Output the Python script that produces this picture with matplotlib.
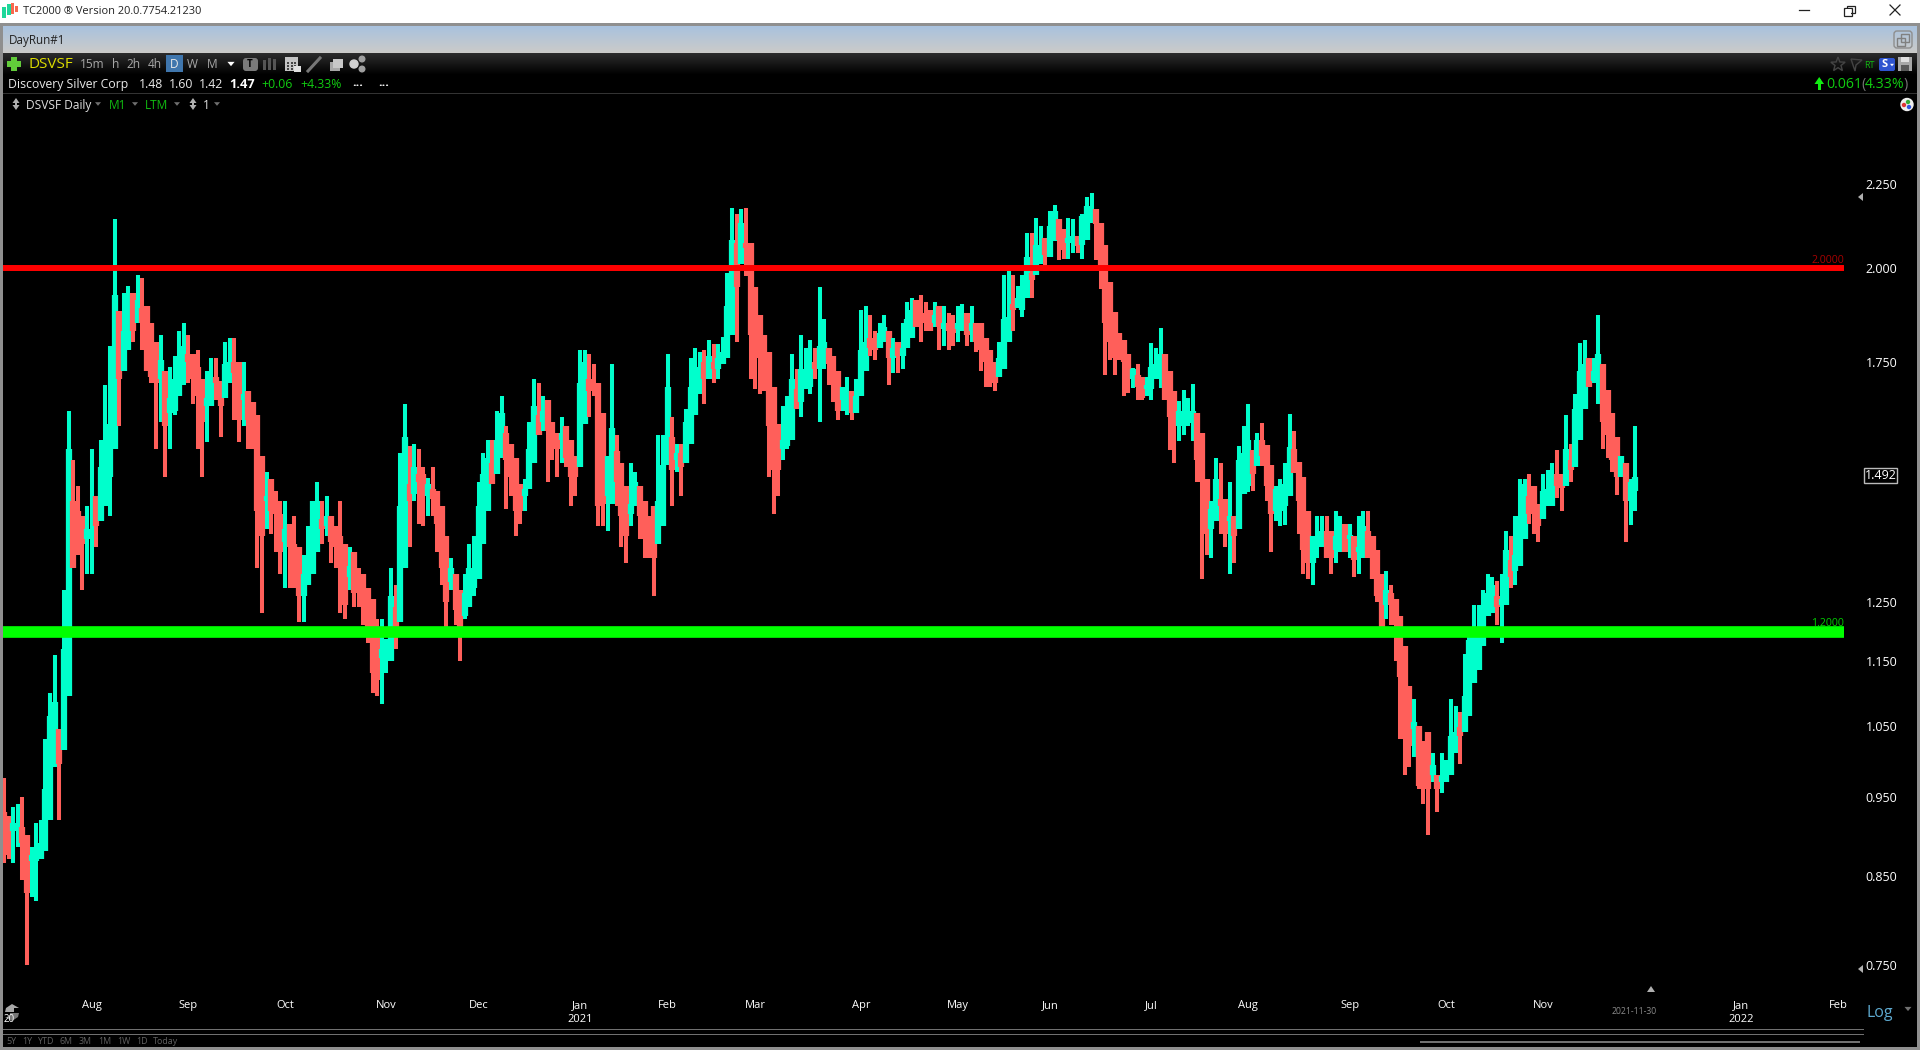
import numpy as np
import matplotlib
matplotlib.use('Agg')
import matplotlib.pyplot as plt
from matplotlib.patches import Rectangle, FancyBboxPatch, Circle, Polygon
from matplotlib.ticker import NullLocator, FixedLocator, FixedFormatter

plt.rcParams['font.family'] = ['Open Sans', 'DejaVu Sans']

# daily bars, left to right
highs = [.975,.925,.937,.94,.95,.90,.885,.915,.92,1.03,
 1.10,1.16,1.045,1.27,1.635,1.525,1.47,1.41,1.43,1.55,
 1.45,1.57,1.695,1.79,2.14,1.88,1.93,1.95,1.93,1.98,
 1.97,1.895,1.85,1.80,1.82,1.73,1.74,1.765,1.83,1.85,
 1.82,1.77,1.78,1.71,1.73,1.76,1.76,1.705,1.80,1.81,
 1.81,1.75,1.75,1.68,1.655,1.625,1.535,1.50,1.485,1.46,
 1.44,1.44,1.395,1.41,1.35,1.335,1.39,1.44,1.48,1.44,
 1.45,1.41,1.39,1.44,1.355,1.35,1.34,1.31,1.30,1.275,
 1.255,1.22,1.22,1.186,1.31,1.28,1.54,1.65,1.555,1.56,
 1.55,1.51,1.487,1.51,1.46,1.43,1.37,1.33,1.30,1.27,
 1.30,1.355,1.37,1.48,1.54,1.57,1.57,1.635,1.67,1.60,
 1.56,1.53,1.475,1.485,1.61,1.71,1.70,1.67,1.66,1.61,
 1.585,1.62,1.60,1.57,1.535,1.78,1.78,1.77,1.745,1.70,
 1.63,1.535,1.745,1.58,1.52,1.47,1.52,1.50,1.47,1.44,
 1.41,1.43,1.58,1.58,1.77,1.62,1.56,1.56,1.64,1.76,
 1.785,1.775,1.78,1.805,1.795,1.795,1.815,1.985,2.175,2.155,
 2.17,2.175,2.07,1.945,1.87,1.82,1.775,1.69,1.605,1.645,
 1.67,1.77,1.735,1.82,1.785,1.805,1.785,1.945,1.86,1.785,
 1.765,1.73,1.69,1.715,1.68,1.71,1.885,1.895,1.87,1.83,
 1.85,1.87,1.83,1.81,1.80,1.85,1.905,1.915,1.91,1.925,
 1.905,1.885,1.905,1.895,1.895,1.875,1.87,1.895,1.90,1.875,
 1.895,1.85,1.85,1.81,1.78,1.75,1.80,1.98,1.99,1.98,
 1.95,1.98,2.10,2.10,2.145,2.12,2.085,2.165,2.185,2.14,
 2.11,2.145,2.14,2.09,2.155,2.21,2.222,2.17,2.13,2.065,
 1.96,1.878,1.823,1.807,1.77,1.736,1.745,1.715,1.715,1.798,
 1.786,1.837,1.77,1.728,1.68,1.658,1.684,1.665,1.697,1.631,
 1.585,1.485,1.44,1.529,1.52,1.445,1.48,1.41,1.555,1.60,
 1.65,1.547,1.585,1.607,1.558,1.515,1.47,1.485,1.52,1.627,
 1.59,1.522,1.49,1.42,1.37,1.41,1.41,1.41,1.38,1.42,
 1.41,1.395,1.395,1.37,1.41,1.42,1.42,1.37,1.345,1.30,
 1.305,1.28,1.255,1.225,1.175,1.11,1.09,1.05,1.028,1.04,
 1.01,.98,1.01,1.00,1.09,1.08,1.07,1.162,1.20,1.245,
 1.245,1.27,1.30,1.295,1.287,1.30,1.38,1.37,1.41,1.485,
 1.485,1.495,1.47,1.435,1.495,1.505,1.52,1.548,1.495,1.625,
 1.56,1.675,1.798,1.807,1.76,1.76,1.87,1.745,1.684,1.63,
 1.575,1.535,1.52,1.485,1.60]

lows = [.865,.87,.865,.885,.845,.75,.825,.82,.87,.88,
 .92,.99,.92,1.015,1.095,1.31,1.335,1.27,1.30,1.30,
 1.35,1.40,1.43,1.41,1.55,1.60,1.73,1.78,1.80,1.85,
 1.78,1.73,1.70,1.55,1.61,1.49,1.55,1.625,1.67,1.695,
 1.70,1.65,1.55,1.49,1.565,1.645,1.66,1.575,1.665,1.70,
 1.615,1.565,1.60,1.55,1.55,1.31,1.23,1.385,1.375,1.34,
 1.30,1.275,1.275,1.275,1.215,1.215,1.28,1.30,1.34,1.355,
 1.37,1.32,1.31,1.23,1.22,1.27,1.24,1.24,1.21,1.18,
 1.10,1.095,1.083,1.13,1.15,1.17,1.215,1.31,1.35,1.44,
 1.395,1.39,1.41,1.41,1.34,1.28,1.205,1.27,1.21,1.15,
 1.22,1.24,1.26,1.29,1.355,1.42,1.475,1.495,1.53,1.425,
 1.45,1.37,1.395,1.42,1.465,1.52,1.58,1.59,1.48,1.525,
 1.49,1.52,1.51,1.43,1.45,1.51,1.605,1.62,1.67,1.39,
 1.39,1.38,1.435,1.43,1.35,1.32,1.39,1.43,1.365,1.33,
 1.33,1.26,1.355,1.39,1.515,1.43,1.50,1.45,1.52,1.56,
 1.625,1.675,1.65,1.71,1.70,1.71,1.745,1.76,1.82,1.80,
 2.01,1.975,1.71,1.685,1.675,1.68,1.49,1.415,1.45,1.525,
 1.55,1.57,1.64,1.62,1.685,1.675,1.71,1.61,1.735,1.695,
 1.655,1.615,1.635,1.625,1.615,1.63,1.67,1.73,1.765,1.755,
 1.785,1.80,1.695,1.725,1.725,1.735,1.785,1.81,1.84,1.80,
 1.83,1.83,1.84,1.78,1.79,1.78,1.79,1.80,1.83,1.79,
 1.80,1.775,1.73,1.69,1.69,1.68,1.715,1.735,1.80,1.83,
 1.89,1.865,1.915,1.915,1.98,2.01,1.99,2.03,2.075,2.02,
 2.025,2.025,2.04,2.04,2.025,2.08,2.13,2.02,1.94,1.72,
 1.755,1.72,1.756,1.669,1.677,1.689,1.66,1.66,1.669,1.66,
 1.71,1.689,1.66,1.547,1.52,1.568,1.58,1.60,1.568,1.48,
 1.29,1.335,1.33,1.40,1.375,1.35,1.30,1.32,1.385,1.455,
 1.458,1.46,1.512,1.512,1.44,1.34,1.40,1.39,1.392,1.45,
 1.498,1.375,1.30,1.29,1.28,1.33,1.35,1.33,1.30,1.32,
 1.34,1.34,1.33,1.295,1.30,1.33,1.33,1.29,1.25,1.205,
 1.22,1.21,1.15,1.03,.98,.99,1.005,.96,.94,.90,
 .97,.93,.955,.97,.98,1.01,.995,1.04,1.065,1.115,
 1.135,1.175,1.225,1.23,1.21,1.18,1.245,1.275,1.28,1.315,
 1.365,1.395,1.375,1.36,1.405,1.43,1.43,1.447,1.42,1.47,
 1.48,1.51,1.57,1.64,1.69,1.70,1.65,1.55,1.53,1.50,
 1.452,1.49,1.36,1.392,1.42]

opens = [.93,.925,.905,.905,.91,.90,.868,.868,.87,.88,
 .92,.99,1.045,1.015,1.095,1.44,1.42,1.41,1.365,1.37,
 1.45,1.40,1.43,1.49,1.55,1.88,1.73,1.78,1.93,1.85,
 1.89,1.895,1.85,1.80,1.71,1.73,1.63,1.635,1.67,1.70,
 1.77,1.77,1.74,1.71,1.645,1.645,1.715,1.705,1.665,1.70,
 1.75,1.75,1.66,1.68,1.655,1.625,1.535,1.44,1.485,1.44,
 1.415,1.36,1.395,1.355,1.35,1.26,1.28,1.30,1.34,1.405,
 1.39,1.41,1.39,1.37,1.355,1.295,1.34,1.295,1.30,1.275,
 1.255,1.205,1.155,1.16,1.15,1.24,1.215,1.31,1.475,1.455,
 1.495,1.495,1.45,1.465,1.46,1.43,1.37,1.285,1.30,1.27,
 1.225,1.24,1.275,1.29,1.355,1.42,1.52,1.495,1.53,1.585,
 1.56,1.53,1.475,1.45,1.465,1.52,1.625,1.61,1.66,1.61,
 1.585,1.57,1.60,1.57,1.535,1.51,1.605,1.71,1.695,1.70,
 1.63,1.45,1.435,1.545,1.52,1.47,1.415,1.43,1.47,1.44,
 1.41,1.43,1.355,1.39,1.515,1.575,1.525,1.54,1.52,1.56,
 1.625,1.675,1.75,1.71,1.75,1.735,1.745,1.76,1.82,2.07,
 2.01,2.07,2.07,1.945,1.87,1.82,1.775,1.69,1.605,1.55,
 1.555,1.57,1.685,1.655,1.685,1.69,1.75,1.735,1.745,1.785,
 1.765,1.73,1.66,1.655,1.68,1.63,1.67,1.73,1.81,1.81,
 1.785,1.815,1.83,1.76,1.80,1.765,1.785,1.81,1.91,1.875,
 1.87,1.885,1.85,1.895,1.835,1.85,1.85,1.835,1.83,1.875,
 1.83,1.85,1.85,1.81,1.78,1.75,1.715,1.735,1.80,1.90,
 1.89,1.885,1.915,1.985,1.98,2.015,2.085,2.03,2.075,2.14,
 2.11,2.07,2.075,2.09,2.065,2.08,2.13,2.17,2.13,2.065,
 1.96,1.878,1.823,1.807,1.77,1.71,1.72,1.715,1.685,1.685,
 1.71,1.71,1.77,1.728,1.68,1.60,1.605,1.608,1.61,1.631,
 1.585,1.485,1.385,1.40,1.445,1.445,1.40,1.41,1.385,1.455,
 1.47,1.547,1.512,1.57,1.558,1.515,1.42,1.42,1.43,1.45,
 1.55,1.522,1.49,1.42,1.32,1.35,1.35,1.38,1.38,1.345,
 1.345,1.395,1.365,1.37,1.34,1.33,1.38,1.37,1.345,1.30,
 1.245,1.265,1.255,1.225,1.175,1.11,1.045,1.05,1.028,1.04,
 .98,.98,.97,.97,.98,1.01,1.048,1.04,1.065,1.115,
 1.135,1.175,1.225,1.23,1.26,1.245,1.245,1.325,1.305,1.315,
 1.365,1.45,1.47,1.435,1.405,1.43,1.43,1.495,1.487,1.47,
 1.525,1.51,1.57,1.64,1.76,1.705,1.70,1.745,1.684,1.63,
 1.575,1.49,1.52,1.44,1.46]

closes = [.875,.875,.915,.915,.89,.83,.875,.875,.89,.96,
 1.065,1.085,.995,1.17,1.55,1.31,1.335,1.355,1.385,1.385,
 1.39,1.51,1.555,1.605,1.925,1.71,1.83,1.90,1.83,1.91,
 1.85,1.73,1.715,1.70,1.755,1.60,1.665,1.71,1.73,1.79,
 1.75,1.71,1.67,1.61,1.665,1.705,1.70,1.645,1.745,1.75,
 1.725,1.615,1.675,1.615,1.55,1.42,1.37,1.45,1.42,1.415,
 1.34,1.385,1.35,1.335,1.26,1.30,1.315,1.44,1.44,1.385,
 1.41,1.36,1.35,1.335,1.245,1.315,1.265,1.265,1.25,1.205,
 1.13,1.12,1.17,1.175,1.26,1.205,1.43,1.575,1.44,1.51,
 1.48,1.465,1.475,1.445,1.395,1.31,1.25,1.31,1.235,1.205,
 1.265,1.31,1.31,1.43,1.495,1.53,1.475,1.57,1.63,1.525,
 1.49,1.42,1.42,1.465,1.55,1.645,1.58,1.635,1.59,1.55,
 1.55,1.585,1.53,1.49,1.49,1.70,1.75,1.68,1.68,1.43,
 1.435,1.535,1.595,1.48,1.41,1.37,1.435,1.48,1.41,1.365,
 1.355,1.33,1.44,1.515,1.69,1.505,1.54,1.51,1.61,1.69,
 1.74,1.74,1.71,1.765,1.735,1.76,1.775,1.895,2.08,1.945,
 2.13,2.055,1.82,1.76,1.785,1.76,1.60,1.505,1.505,1.57,
 1.57,1.71,1.64,1.735,1.735,1.735,1.735,1.79,1.80,1.745,
 1.70,1.635,1.69,1.68,1.63,1.67,1.78,1.80,1.785,1.78,
 1.825,1.84,1.76,1.785,1.765,1.785,1.86,1.885,1.84,1.85,
 1.85,1.83,1.87,1.84,1.85,1.83,1.825,1.85,1.86,1.82,
 1.85,1.80,1.78,1.75,1.715,1.70,1.76,1.86,1.865,1.885,
 1.915,1.925,2.03,1.965,2.065,2.065,2.035,2.12,2.165,2.08,
 2.05,2.085,2.09,2.06,2.15,2.18,2.165,2.125,2.00,1.85,
 1.80,1.76,1.76,1.75,1.73,1.735,1.69,1.665,1.695,1.74,
 1.745,1.77,1.66,1.62,1.60,1.635,1.625,1.632,1.635,1.525,
 1.48,1.375,1.425,1.485,1.43,1.375,1.41,1.37,1.525,1.54,
 1.57,1.495,1.57,1.535,1.47,1.415,1.465,1.45,1.475,1.553,
 1.498,1.44,1.344,1.32,1.37,1.37,1.38,1.33,1.33,1.37,
 1.38,1.34,1.372,1.325,1.35,1.39,1.33,1.29,1.26,1.205,
 1.27,1.245,1.21,1.125,1.03,1.02,1.055,.965,.965,.96,
 .993,.96,.978,1.00,1.035,1.04,1.035,1.095,1.185,1.19,
 1.20,1.23,1.265,1.28,1.24,1.255,1.345,1.295,1.335,1.41,
 1.475,1.415,1.415,1.39,1.46,1.465,1.49,1.47,1.467,1.55,
 1.505,1.64,1.73,1.745,1.69,1.73,1.77,1.61,1.58,1.525,
 1.49,1.535,1.44,1.48,1.49]

month_pos = [19,40,61,83,103,125,144,163,186,207,227,249,270,292,313,334,377,398]
month_labels = ['Aug','Sep','Oct','Nov','Dec','Jan\n2021','Feb','Mar','Apr','May','Jun','Jul',
                'Aug','Sep','Oct','Nov','Jan\n2022','Feb']
price_ticks = [0.75,0.85,0.95,1.05,1.15,1.25,1.75,2.0,2.25]
price_labels = ['0.750','0.850','0.950','1.050','1.150','1.250','1.750','2.000','2.250']
resistance = 2.0
support = 1.197
last_price = 1.492

UP = '#00FFCC'
DOWN = '#FF5F5A'
W, H = 1920, 1050
fig = plt.figure(figsize=(W/100, H/100), dpi=100, facecolor='black')

# price pane
L, R, T, B = 3, 1844, 110, 996
ax = fig.add_axes([L/W, 1-B/H, (R-L)/W, (B-T)/H], facecolor='black')
ax.set_yscale('log')
ax.set_xlim(-0.22, 399.3)
ax.set_ylim(2*np.exp(-(B-267.5)/711), 2*np.exp((267.5-T)/711))

for i in range(len(highs)):
    c = UP if closes[i] >= opens[i] else DOWN
    ax.plot([i,i],[lows[i],highs[i]],color=c,lw=2.9,solid_capstyle='butt',zorder=2+i*0.001)
    ax.plot([i,i],[opens[i],closes[i]],color=c,lw=4.5,solid_capstyle='butt',zorder=2+i*0.001)

ax.axhline(resistance,color='#FF0000',lw=4.3,zorder=5)
ax.axhline(support,color='#00FF00',lw=8.4,zorder=5)

for s in ax.spines.values():
    s.set_visible(False)
ax.yaxis.tick_right()
ax.yaxis.set_major_locator(FixedLocator(price_ticks))
ax.yaxis.set_major_formatter(FixedFormatter(price_labels))
ax.yaxis.set_minor_locator(NullLocator())
ax.tick_params(axis='y',length=0,pad=15.5,labelsize=9,labelcolor='white')
ax.set_xticks(month_pos)
ax.set_xticklabels(month_labels,linespacing=1.3)
ax.tick_params(axis='x',length=0,pad=3,labelsize=8,labelcolor='white')

# everything around the chart, in screen pixels
ov = fig.add_axes([0,0,1,1],facecolor='none',zorder=10)
ov.axis('off')

def txt(x,y,s,color='white',size=8.5,ha='left',**kw):
    ov.text(x,y,s,color=color,fontsize=size,ha=ha,va='center',**kw)

def box(x0,y0,x1,y1,color,**kw):
    ov.add_patch(Rectangle((x0,y0),x1-x0,y1-y0,facecolor=color,edgecolor='none',**kw))

def tri(x,y,color='#8a8a8a',s=3,pts=None):
    if pts is None:
        pts = [(x-s,y-s*0.6),(x+s,y-s*0.6),(x,y+s*0.6)]
    ov.add_patch(Polygon(pts,facecolor=color,edgecolor='none'))

def updown(x,y):
    tri(0,0,'#b0b0b0',pts=[(x-3.5,y-1),(x+3.5,y-1),(x,y-6)])
    tri(0,0,'#b0b0b0',pts=[(x-3.5,y+1),(x+3.5,y+1),(x,y+6)])
    box(x-1,y-2,x+1,y+2,'#b0b0b0')

# title bar
box(0,0,W,23,'white')
box(0,23,W,26,'#8f8f8f')
box(0,26,3,H,'#8f8f8f')
box(W-3,26,W,H,'#8f8f8f')
box(0,H-3,W,H,'#8f8f8f')
box(2,7,6,18,'#1ed79a'); box(7,4,11,15,'#1ed79a'); box(11,3,14,14,'#f8694f'); box(15,6,18,12,'#f8694f')
txt(23,11.5,'TC2000 \u00ae Version 20.0.7754.21230',color='#222222',size=7.9)
ov.plot([1799,1809],[10,10],color='#222222',lw=0.9)
ov.add_patch(Rectangle((1844,8),7.5,7.5,facecolor='white',edgecolor='#222222',lw=0.9))
ov.add_patch(Rectangle((1847,5.5),7.5,7.5,facecolor='none',edgecolor='#222222',lw=0.9))
box(1845.5,9,1851,15,'white')
ov.plot([1890,1900],[5,15],color='#222222',lw=0.9)
ov.plot([1890,1900],[15,5],color='#222222',lw=0.9)

# tab strip
grad = np.linspace(0,1,27)[:,None,None]*np.array([[[0xcb,0xcb,0xc9]]])+(1-np.linspace(0,1,27)[:,None,None])*np.array([[[0xa9,0xc2,0xde]]])
ov.imshow(grad.astype(np.uint8),extent=(3,W-3,53,26),aspect='auto',zorder=0)
txt(9,40.5,'DayRun#1',color='#222222',size=8.4)
ov.add_patch(FancyBboxPatch((1894,31),18,17,boxstyle='round,pad=0,rounding_size=3',facecolor='none',edgecolor='#8e8e8e',lw=1))
ov.add_patch(Rectangle((1897,38),8,8,facecolor='none',edgecolor='#808080',lw=1))
ov.add_patch(Rectangle((1901,34),8,8,facecolor='none',edgecolor='#808080',lw=1))

# toolbar
grad2 = (np.linspace(1,0,22)[:,None,None]*np.array([[[0x2c,0x2c,0x2c]]])).astype(np.uint8)
ov.imshow(grad2,extent=(3,W-3,75,53),aspect='auto',zorder=0)
box(11,57,17,71,'#62cc3a'); box(7,61,21,67,'#62cc3a')
txt(28,64,'DSVSF',color='#DDDD00',size=11)
for x,s in [(80,'15m'),(112,'h'),(126,'2h'),(148,'4h'),(187,'W'),(207,'M')]:
    txt(x,65,s,color='#a8a8a8',size=8.6)
box(166,55,183,72,'#3f76ad')
txt(174.5,65,'D',color='#e8e8e8',size=8.6,ha='center')
tri(231,64,'white',s=3.6)
ov.add_patch(FancyBboxPatch((243,58),15,13,boxstyle='round,pad=0,rounding_size=3',facecolor='#7a7a7a',edgecolor='none'))
txt(250,64.5,'T',color='black',size=7,ha='center',fontweight='bold')
box(263,60,266,70,'#555555'); box(268,58,271,70,'#555555'); box(273,59,276,70,'#555555')
box(285,57,298,71,'#c4c4c4')
for yy in (62,65,68):
    for xx in (287,290.5,294):
        box(xx,yy,xx+2,yy+2,'#444444')
box(294,66,301,72,'#e0e0e0')
ov.plot([308,320],[71,58],color='#777777',lw=2.2)
box(330,62,340,71,'#a8a8a8'); box(333,59,343,68,'#c8c8c8')
ov.add_patch(Circle((354,64),4,color='#d0d0d0')); ov.add_patch(Circle((362,59),2.8,color='#a0a0a0')); ov.add_patch(Circle((362,69),2.8,color='#a0a0a0'))

# right of the toolbar
star = [(1838+7.5*np.cos(a)*(1 if k%2==0 else 0.42),64.5-7.5*np.sin(a)*(1 if k%2==0 else 0.42)) for k,a in enumerate(np.pi/2+np.arange(10)*np.pi/5)]
ov.add_patch(Polygon(star,facecolor='none',edgecolor='#444444',lw=1))
ov.add_patch(Polygon([(1851,59),(1862,60),(1856,65),(1855,71)],facecolor='none',edgecolor='#444444',lw=1))
txt(1864,65,'RT',color='#11bb11',size=6.5)
ov.add_patch(FancyBboxPatch((1879,58),16,13,boxstyle='round,pad=0,rounding_size=2',facecolor='#2f55d0',edgecolor='none'))
txt(1885,64.5,'S',color='white',size=8,ha='center',fontweight='bold')
tri(1892,65,'white',s=2)
box(1898,57,1912,71,'#a8a8a8'); box(1901,57,1909,62,'#e0e0e0'); box(1901,65,1909,71,'#5a5a5a')

# quote row
txt(8,84.5,'Discovery Silver Corp',color='#eaeaea',size=8.8)
txt(139,84.5,'1.48',color='#eaeaea',size=8.8)
txt(169,84.5,'1.60',color='#eaeaea',size=8.8)
txt(199,84.5,'1.42',color='#eaeaea',size=8.8)
txt(229,84.5,'1.47',color='white',size=9.2,fontweight='bold')
txt(261,84.5,'+0.06',color='#11cc11',size=8.8)
txt(300,84.5,'+4.33%',color='#11cc11',size=8.8)
txt(352,83,'...',color='white',size=8.8,fontweight='bold')
txt(378,83,'...',color='white',size=8.8,fontweight='bold')
box(1818,79,1820.5,90,'#11ee11')
tri(0,0,'#11ee11',pts=[(1814.5,84),(1824,84),(1819.2,77)])
txt(1826,84.5,'0.061',color='#11cc11',size=10.2)
txt(1861,84.5,'(',color='#777777',size=10.2)
txt(1865,84.5,'4.33%',color='#11cc11',size=10.2)
txt(1904,84.5,')',color='#777777',size=10.2)
box(3,93,W-3,94,'#333333')

# chart header row
updown(16,104)
txt(26,105.5,'DSVSF Daily',color='#e0e0e0',size=8.6)
tri(98,104,'#707070')
txt(109,105.5,'M1',color='#11bb11',size=8.6)
tri(135,104,'#707070')
txt(145,105.5,'LTM',color='#11bb11',size=8.6)
tri(177,104,'#707070')
updown(193,104)
txt(203,105.5,'1',color='#e0e0e0',size=8.6)
tri(217,104,'#707070')
ov.add_patch(Circle((1907,104.5),6,color='#eeeeee'))
ov.add_patch(Circle((1904,105),1.5,color='#dd3333')); ov.add_patch(Circle((1908,102),1.5,color='#33aa33')); ov.add_patch(Circle((1909,107),1.5,color='#3355dd'))

# level labels
txt(1844,260.5,'2.0000',color='#a80000',size=7.6,ha='right')
txt(1844,623,'1.2000',color='#00cc00',size=7.6,ha='right')

# last price tag
ov.add_patch(Rectangle((1864,468),33,15,facecolor='black',edgecolor='#bbbbbb',lw=1))
txt(1880.5,475.5,'%.3f' % last_price,color='white',size=9,ha='center')

# scale markers
tri(0,0,'#b0b0b0',pts=[(1858,197),(1863,193),(1863,201)])
tri(0,0,'#b0b0b0',pts=[(1858,969),(1863,965),(1863,973)])
tri(0,0,'#b0b0b0',pts=[(1647,992),(1655,992),(1651,986)])
txt(1634.5,1012,'2021-11-30',color='#8a8a8a',size=6.2,ha='center')
txt(1867,1013,'Log',color='#5da9cf',size=11.5)
tri(1908,1009,'#707070',s=3.5)

# bottom strip
box(3,1029,1864,1030,'#707070')
box(3,1034,1864,1035,'#707070')
box(1420,1041,1860,1042.5,'#707070')
for x,s in [(6,'5Y'),(22,'1Y'),(38,'YTD'),(60,'6M'),(79,'3M'),(98,'1M'),(117,'1W'),(136,'1D'),(153,'Today')]:
    txt(x,1041,s,color='#606060',size=6.4)
txt(4,1020,'20',color='white',size=7)
box(5,1006,19,1019,'black')
tri(0,0,'#a8a8a8',pts=[(5,1012),(14,1012),(14,1008),(19,1008),(12,1004),(6,1008)])
tri(0,0,'#777777',pts=[(19,1013),(10,1013),(10,1017),(5,1017),(12,1021),(18,1017)])

ov.set_xlim(0,W)
ov.set_ylim(H,0)

fig.savefig('out.png',dpi=100,facecolor='black')
